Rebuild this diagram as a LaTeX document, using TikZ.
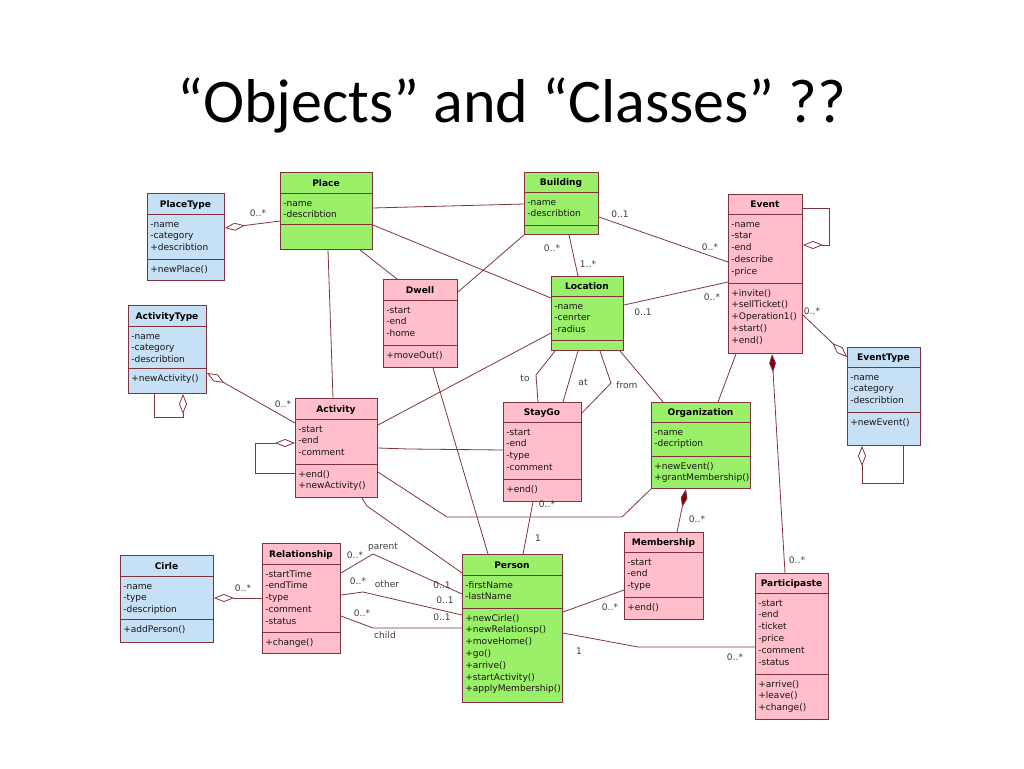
\documentclass[tikz,border=0pt]{standalone}
\usepackage{fontspec}
\setmainfont{DejaVu Sans}
\newfontfamily\titlefont{Carlito}
\usetikzlibrary{arrows.meta}
\definecolor{cgreen}{RGB}{155,240,105}
\definecolor{cpink}{RGB}{255,190,202}
\definecolor{cblue}{RGB}{198,224,246}
\definecolor{umlborder}{RGB}{128,50,64}
\definecolor{umlline}{RGB}{125,55,60}
\definecolor{compfill}{RGB}{130,0,20}
\definecolor{membertext}{RGB}{25,20,20}
\definecolor{labeltext}{RGB}{60,60,60}
\tikzset{
 classbox/.style={draw=umlborder, line width=0.7pt, inner sep=0pt, rectangle},
 divider/.style={draw=umlborder, line width=0.7pt},
 ctitle/.style={font=\fontsize{6.8}{8}\selectfont\bfseries, text=black, inner sep=0pt, anchor=base},
 member/.style={font=\fontsize{6.8}{8}\selectfont, text=membertext, inner sep=0pt, anchor=base west},
 assoc/.style={draw=umlline, line width=0.6pt},
 agg/.style={assoc, {Diamond[length=15pt,width=6pt,fill=white]}-},
 comp/.style={assoc, {Diamond[length=14pt,width=5pt,fill=compfill]}-},
 mult/.style={font=\fontsize{6.8}{8}\selectfont, text=labeltext, inner sep=0pt},
}
% name, x1, y1, x2, y2, d1, d2, fill, title
\newcommand\umlbox[9]{%
 \node[classbox, fill=#8, anchor=north west, minimum width={(#4-#2)*0.75pt}, minimum height={(#5-#3)*0.75pt}] (#1) at (#2,#3) {};
 \draw[divider] (#2,#6) -- (#4,#6);
 \draw[divider] (#2,#7) -- (#4,#7);
 \node[ctitle] (#1-title) at ({(#2+#4)/2},{#6-6.5}) {#9};
}
% prefix, x, first baseline, list
\newcommand\members[4]{%
 \foreach \t [count=\i] in {#4} {\node[member] (#1\i) at (#2,{#3+(\i-1)*11.8}) {\t};}
}
\begin{document}
\begin{tikzpicture}[x=0.75pt,y=-0.75pt]
\fill[white] (0,0) rectangle (1024,768);
\useasboundingbox (0,0) rectangle (1024,768);

\node[font=\titlefont\fontsize{46.5}{50}\selectfont, anchor=base, inner sep=0pt] (title) at (512,122) {“Objects” and “Classes” ??};

% ---------- connectors (drawn first, boxes on top) ----------
\coordinate (dummy) at (0,0);
\umlbox{PlaceType}{147}{193}{224}{280}{214}{259}{cblue}{PlaceType}
\umlbox{Place}{280}{172}{372}{249}{193}{224}{cgreen}{Place}
\umlbox{ActivityType}{128}{305}{206}{393}{326}{368}{cblue}{ActivityType}
\umlbox{Dwell}{383}{279}{457}{367}{300}{345}{cpink}{Dwell}
\umlbox{Building}{524}{172}{598}{234}{192}{225}{cgreen}{Building}
\umlbox{Location}{551}{276}{623}{350}{296}{340}{cgreen}{Location}
\umlbox{Event}{728}{194}{802}{353}{214}{283}{cpink}{Event}
\umlbox{EventType}{847}{347}{920}{445}{367}{412}{cblue}{EventType}
\umlbox{Organization}{651}{402}{750}{488}{422}{456}{cgreen}{Organization}
\umlbox{Activity}{295}{398}{377}{497}{419}{464}{cpink}{Activity}
\umlbox{StayGo}{503}{402}{581}{501}{422}{479}{cpink}{StayGo}
\umlbox{Membership}{624}{532}{703}{619}{552}{597}{cpink}{Membership}
\umlbox{Person}{462}{554}{562}{702}{575}{608}{cgreen}{Person}
\umlbox{Participaste}{755}{573}{828}{719}{593}{674}{cpink}{Participaste}
\umlbox{Cirle}{120}{555}{213}{642}{576}{619}{cblue}{Cirle}
\umlbox{Relationship}{262}{543}{340}{653}{564}{632}{cpink}{Relationship}

\members{PlaceType-a}{150}{227}{-name,-category,+describtion}
\members{PlaceType-m}{150}{272}{+newPlace()}
\members{Place-a}{283}{206}{-name,-describtion}
\members{ActivityType-a}{131}{339}{-name,-category,-describtion}
\members{ActivityType-m}{131}{381}{+newActivity()}
\members{Dwell-a}{386}{313}{-start,-end,-home}
\members{Dwell-m}{386}{358}{+moveOut()}
\members{Building-a}{527}{205}{-name,-describtion}
\members{Location-a}{554}{309}{-name,-cenrter,-radius}
\members{Event-a}{731}{227}{-name,-star,-end,-describe,-price}
\members{Event-m}{731}{296}{+invite(),+sellTicket(),+Operation1(),+start(),+end()}
\members{EventType-a}{850}{380}{-name,-category,-describtion}
\members{EventType-m}{850}{425}{+newEvent()}
\members{Organization-a}{654}{435}{-name,-decription}
\members{Organization-m}{654}{469}{+newEvent(),+grantMembership()}
\members{Activity-a}{298}{432}{-start,-end,-comment}
\members{Activity-m}{298}{477}{+end(),+newActivity()}
\members{StayGo-a}{506}{435}{-start,-end,-type,-comment}
\members{StayGo-m}{506}{492}{+end()}
\members{Membership-a}{627}{565}{-start,-end,-type}
\members{Membership-m}{627}{610}{+end()}
\members{Person-a}{465}{588}{-firstName,-lastName}
\members{Person-m}{465}{621}{+newCirle(),+newRelationsp(),+moveHome(),+go(),+arrive(),+startActivity(),+applyMembership()}
\members{Participaste-a}{758}{606}{-start,-end,-ticket,-price,-comment,-status}
\members{Participaste-m}{758}{687}{+arrive(),+leave(),+change()}
\members{Cirle-a}{123}{589}{-name,-type,-description}
\members{Cirle-m}{123}{632}{+addPerson()}
\members{Relationship-a}{265}{577}{-startTime,-endTime,-type,-comment,-status}
\members{Relationship-m}{265}{645}{+change()}

% ---------- connectors ----------
\draw[agg] (PlaceType.east |- 0,228) -- (Place.west |- 0,221);
\draw[assoc] (Place.east |- 0,208) -- (Building.west |- 0,204);
\draw[assoc] (Place.east |- 0,225) -- (Location.west |- 0,298);
\draw[assoc] (Place.south -| 360,0) -- (Dwell.north -| 397,0);
\draw[assoc] (Place.south -| 328,0) -- (Activity.north -| 333,0);
\draw[assoc] (Building.south west) -- (Dwell.east |- 0,292);
\draw[assoc] (Building.south -| 569,0) -- (Location.north -| 578,0);
\draw[assoc] (Building.east |- 0,217) -- (Event.west |- 0,262);
\draw[assoc] (Location.east |- 0,305) -- (Event.west |- 0,282);
\draw[assoc] (Location.west |- 0,333) -- (Activity.east |- 0,425);
\draw[assoc] (Location.south -| 555,0) -- (536,375) -- (StayGo.north -| 538,0);
\draw[assoc] (Location.south -| 578,0) -- (StayGo.north -| 563,0);
\draw[assoc] (Location.south -| 600,0) -- (611,383) -- (StayGo.east |- 0,413);
\draw[assoc] (Location.south -| 620,0) -- (Organization.north -| 663,0);
\draw[assoc] (Event.south -| 736,0) -- (Organization.north -| 718,0);
\draw[agg] (Event.east |- 0,245) -- (829,245) -- (829,208) -- (Event.east |- 0,208);
\draw[agg] (EventType.west |- 0,357) -- (Event.east |- 0,315);
\draw[agg] (EventType.south -| 862,0) -- (862,483) -- (903,483) -- (EventType.south -| 903,0);
\draw[comp] (Event.south -| 772,0) -- (Participaste.north -| 785,0);
\draw[comp] (Organization.south -| 686,0) -- (Membership.north -| 677,0);
\draw[assoc] (Activity.east |- 0,472) -- (447,517) -- (622,517) -- (Organization.south west);
\draw[assoc] (Activity.east |- 0,448) -- (409,449) -- (StayGo.west |- 0,450);
\draw[assoc] (StayGo.south -| 533,0) -- (Person.north -| 523,0);
\draw[assoc] (Dwell.south -| 433,0) -- (Person.north -| 488,0);
\draw[agg] (ActivityType.east |- 0,373) -- (Activity.west |- 0,423);
\draw[agg] (ActivityType.south -| 183,0) -- (183,417) -- (154,417) -- (ActivityType.south -| 154,0);
\draw[agg] (Activity.west |- 0,443) -- (255,443) -- (255,473) -- (Activity.west |- 0,473);
\draw[assoc] (Activity.south -| 362,0) -- (367,506) -- (Person.west |- 0,573);
\draw[assoc] (Relationship.east |- 0,573) -- (373,554) -- (Person.west |- 0,594);
\draw[assoc] (Relationship.east |- 0,595) -- (363,592) -- (Person.west |- 0,615);
\draw[assoc] (Relationship.east |- 0,616) -- (373,628) -- (Person.west |- 0,628);
\draw[agg] (Cirle.east |- 0,598) -- (Relationship.west |- 0,598);
\draw[assoc] (Person.east |- 0,612) -- (Membership.west |- 0,590);
\draw[assoc] (Person.east |- 0,633) -- (638,647) -- (697,647) -- (Participaste.west |- 0,647);

% ---------- labels ----------
\node[mult] (l01) at (258,213) {0..*};
\node[mult] (l02) at (552,248) {0..*};
\node[mult] (l03) at (588,264) {1..*};
\node[mult] (l04) at (620,214) {0..1};
\node[mult] (l05) at (710,247) {0..*};
\node[mult] (l06) at (643,312) {0..1};
\node[mult] (l07) at (712,297) {0..*};
\node[mult] (l08) at (812,311) {0..*};
\node[mult] (l09) at (797,560) {0..*};
\node[mult] (l10) at (697,519) {0..*};
\node[mult] (l11) at (525,378) {to};
\node[mult] (l12) at (583,382) {at};
\node[mult] (l13) at (627,385) {from};
\node[mult] (l14) at (283,404) {0..*};
\node[mult] (l15) at (547,504) {0..*};
\node[mult] (l16) at (538,538) {1};
\node[mult] (l17) at (243,588) {0..*};
\node[mult] (l18) at (355,555) {0..*};
\node[mult] (l19) at (383,547) {parent};
\node[mult] (l20) at (358,581) {0..*};
\node[mult] (l21) at (387,584) {other};
\node[mult] (l22) at (362,613) {0..*};
\node[mult] (l23) at (385,635) {child};
\node[mult] (l24) at (442,585) {0..1};
\node[mult] (l25) at (445,600) {0..1};
\node[mult] (l26) at (442,617) {0..1};
\node[mult] (l27) at (610,607) {0..*};
\node[mult] (l28) at (579,651) {1};
\node[mult] (l29) at (735,657) {0..*};
\end{tikzpicture}
\end{document}
